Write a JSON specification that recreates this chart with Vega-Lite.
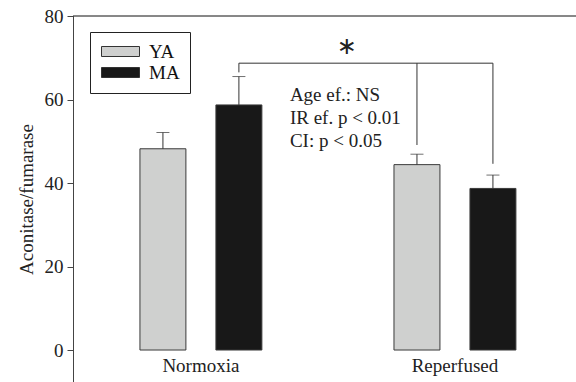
{
  "$schema": "https://vega.github.io/schema/vega-lite/v6.json",
  "width": 503,
  "height": 366,
  "autosize": "none",
  "padding": {"left": 73, "top": 16, "right": 0, "bottom": 0},
  "background": "white",
  "config": {
    "view": {"stroke": null},
    "font": "Liberation Serif",
    "axis": {"labelFont": "Liberation Serif", "titleFont": "Liberation Serif", "grid": false},
    "legend": {"labelFont": "Liberation Serif"}
  },
  "datasets": {
    "bars": [
      {"condition": "Normoxia", "age": "YA", "value": 48.2, "upper": 52.1},
      {"condition": "Normoxia", "age": "MA", "value": 58.7, "upper": 65.5},
      {"condition": "Reperfused", "age": "YA", "value": 44.4, "upper": 46.9},
      {"condition": "Reperfused", "age": "MA", "value": 38.7, "upper": 41.9}
    ],
    "bracket": [
      {"condition": "Normoxia", "age": "MA", "low": 66.5, "top": 68.7},
      {"condition": "Reperfused", "age": "YA", "low": 49.1, "top": 68.7},
      {"condition": "Reperfused", "age": "MA", "low": 44.6, "top": 68.7}
    ]
  },
  "encoding": {
    "x": {
      "field": "condition",
      "type": "nominal",
      "scale": {"domain": ["Normoxia", "Reperfused"], "paddingInner": 0.52, "paddingOuter": 0.25, "align": 0.527},
      "axis": {"orient": "bottom", "title": null, "domain": false, "ticks": false, "labelAngle": 0, "labelFontSize": 19, "labelColor": "#222", "labelPadding": 2, "offset": -28}
    },
    "xOffset": {
      "field": "age",
      "type": "nominal",
      "scale": {"domain": ["YA", "MA"], "paddingInner": 0.395, "paddingOuter": 0}
    }
  },
  "layer": [
    {
      "data": {"name": "bars"},
      "mark": {"type": "bar", "stroke": "#3a3a3a", "strokeWidth": 1},
      "encoding": {
        "y": {
          "field": "value",
          "type": "quantitative",
          "scale": {"domain": [-7.66, 80], "nice": false, "zero": false},
          "axis": {"values": [0, 20, 40, 60, 80], "title": "Aconitase/fumarase", "titleFontSize": 19, "titleFontWeight": "normal", "titleColor": "#222", "titlePadding": 8, "labelFontSize": 19, "labelColor": "#222", "labelPadding": 4, "tickSize": 6, "tickColor": "#444", "domainColor": "#444"}
        },
        "y2": {"datum": 0},
        "color": {
          "field": "age",
          "type": "nominal",
          "scale": {"domain": ["YA", "MA"], "range": ["#cfd0cf", "#181818"]},
          "legend": {
            "title": null,
            "orient": "none",
            "legendX": 17,
            "legendY": 16,
            "padding": 10,
            "strokeColor": "#222",
            "fillColor": "white",
            "cornerRadius": 0,
            "symbolType": "M-3.8,-1H3.8V1H-3.8Z",
            "symbolSize": 100,
            "symbolStrokeColor": "#333",
            "symbolStrokeWidth": 1,
            "symbolOffset": 11,
            "labelOffset": 19,
            "labelFontSize": 19,
            "labelColor": "#111",
            "rowPadding": 1
          }
        }
      }
    },
    {
      "data": {"name": "bars"},
      "mark": {"type": "rule", "color": "#333", "strokeWidth": 1},
      "encoding": {
        "y": {"field": "value", "type": "quantitative"},
        "y2": {"field": "upper"}
      }
    },
    {
      "data": {"name": "bars"},
      "mark": {"type": "tick", "color": "#333", "size": 13, "thickness": 1},
      "encoding": {
        "y": {"field": "upper", "type": "quantitative"}
      }
    },
    {
      "data": {"name": "bracket"},
      "mark": {"type": "rule", "color": "#333", "strokeWidth": 1},
      "encoding": {
        "y": {"field": "low", "type": "quantitative"},
        "y2": {"field": "top"}
      }
    },
    {
      "data": {"name": "bracket"},
      "mark": {"type": "line", "color": "#333", "strokeWidth": 1},
      "encoding": {
        "y": {"field": "top", "type": "quantitative"}
      }
    },
    {
      "data": {"values": [{"condition": "Normoxia", "age": "MA"}]},
      "mark": {"type": "text", "text": "∗", "font": "DejaVu Sans", "fontSize": 24, "color": "#222", "dx": 108, "baseline": "middle"},
      "encoding": {
        "y": {"datum": 72.6}
      }
    },
    {
      "data": {"values": [{"condition": "Normoxia", "age": "MA"}]},
      "mark": {"type": "text", "text": ["Age ef.: NS", "IR ef. p < 0.01", "CI: p < 0.05"], "fontSize": 19, "lineHeight": 23, "color": "#222", "align": "left", "baseline": "alphabetic", "dx": 51},
      "encoding": {
        "y": {"datum": 59.6}
      }
    },
    {
      "data": {"values": [{"edge": 80}]},
      "mark": {"type": "rule", "color": "#111", "strokeWidth": 1},
      "encoding": {
        "x": null,
        "xOffset": null,
        "y": {"field": "edge", "type": "quantitative"}
      }
    }
  ]
}
